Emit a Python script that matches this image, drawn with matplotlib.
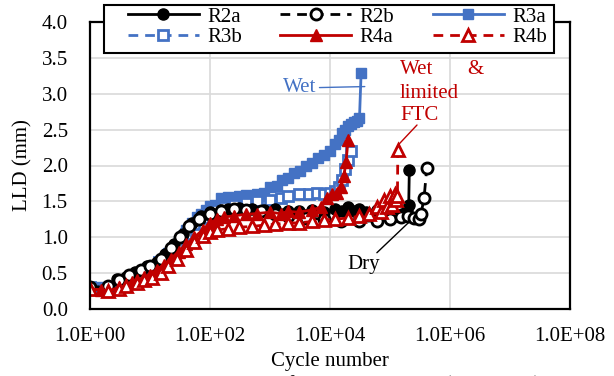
import matplotlib
matplotlib.use("Agg")
import matplotlib.pyplot as plt
from matplotlib.patches import Rectangle
from matplotlib.ticker import FixedLocator, FuncFormatter, NullLocator

plt.rcParams["font.family"] = ["Liberation Serif", "DejaVu Serif"]
plt.rcParams["font.size"] = 15

# ---- data (cycles, LLD in mm) ----
r2a_x = [1, 2, 2.8, 4, 5.6, 7, 9, 13, 18, 25, 35, 50, 70, 100, 150, 200, 300, 500, 800,
         1200, 2000, 3000, 5000, 8000, 12000, 16000, 20000, 25000, 30000, 40000, 60000,
         80000, 100000, 130000, 160000, 190000, 205000, 210000]
r2a_y = [0.30, 0.30, 0.42, 0.45, 0.51, 0.55, 0.60, 0.66, 0.76, 0.90, 1.05, 1.20, 1.30, 1.35,
         1.38, 1.40, 1.41, 1.40, 1.38, 1.40, 1.37, 1.36, 1.38, 1.35, 1.40, 1.36, 1.42, 1.37,
         1.40, 1.35, 1.38, 1.33, 1.32, 1.30, 1.32, 1.38, 1.45, 1.94]

r2b_x = [1, 2, 3, 4.5, 7, 10, 15, 22, 32, 45, 65, 100, 150, 250, 400, 700, 1200, 2000, 4000,
         8000, 15000, 30000, 60000, 100000, 150000, 200000, 250000, 300000, 330000, 370000,
         410000]
r2b_y = [0.30, 0.32, 0.40, 0.48, 0.55, 0.60, 0.70, 0.85, 1.00, 1.15, 1.25, 1.32, 1.36, 1.40,
         1.38, 1.36, 1.33, 1.30, 1.27, 1.25, 1.23, 1.22, 1.23, 1.25, 1.28, 1.30, 1.27, 1.25,
         1.33, 1.55, 1.97]

r3a_x = [1, 1.5, 2, 2.5, 3, 4, 5, 6, 8, 10, 12, 15, 20, 25, 30, 35, 40, 50, 60, 70, 85, 100,
         120, 150, 200, 300, 400, 600, 800, 1000, 1300, 1600, 2000, 2500, 3200, 4000, 5000,
         6300, 8000, 10000, 12000, 14000, 16000, 18000, 20000, 22000, 25000, 28000, 31000,
         33000]
r3a_y = [0.31, 0.30, 0.28, 0.30, 0.33, 0.40, 0.45, 0.50, 0.53, 0.57, 0.60, 0.68, 0.78, 0.85,
         0.95, 1.02, 1.10, 1.20, 1.28, 1.33, 1.38, 1.43, 1.45, 1.55, 1.56, 1.58, 1.59, 1.60,
         1.62, 1.70, 1.72, 1.80, 1.82, 1.90, 1.92, 2.00, 2.03, 2.10, 2.15, 2.20, 2.30, 2.35,
         2.45, 2.50, 2.55, 2.58, 2.60, 2.62, 2.66, 3.29]

r3b_x = [1, 2, 3, 4, 6, 8, 10, 14, 20, 28, 40, 55, 75, 100, 130, 170, 250, 400, 600, 1000,
         1500, 2000, 3000, 4500, 6000, 8000, 10000, 12000, 14000, 16000, 18000, 20000, 22000]
r3b_y = [0.30, 0.28, 0.30, 0.38, 0.48, 0.52, 0.56, 0.65, 0.75, 0.88, 1.05, 1.18, 1.27, 1.33,
         1.38, 1.42, 1.45, 1.48, 1.50, 1.52, 1.55, 1.58, 1.60, 1.60, 1.61, 1.60, 1.62, 1.64,
         1.70, 1.80, 1.95, 2.08, 2.20]

r4a_x = [1, 1.5, 2, 3, 4, 5, 6, 8, 10, 13, 17, 22, 30, 40, 55, 75, 100, 130, 170, 250, 400,
         600, 1000, 1500, 2000, 3000, 5000, 7000, 9000, 11000, 13000, 15000, 17000, 18500,
         20000]
r4a_y = [0.28, 0.27, 0.25, 0.30, 0.33, 0.38, 0.40, 0.44, 0.48, 0.55, 0.62, 0.70, 0.80, 0.90,
         1.00, 1.10, 1.20, 1.25, 1.28, 1.30, 1.32, 1.33, 1.35, 1.33, 1.36, 1.35, 1.38, 1.42,
         1.55, 1.60, 1.62, 1.70, 1.85, 2.05, 2.36]

r4b_x = [1, 2, 3, 4, 6, 8, 11, 15, 20, 28, 40, 55, 75, 100, 130, 200, 300, 500, 800, 1200,
         2000, 3000, 5000, 8000, 12000, 20000, 30000, 45000, 60000, 70000, 80000, 90000,
         100000, 110000, 120000, 128000, 133000, 135000]
r4b_y = [0.28, 0.25, 0.28, 0.32, 0.36, 0.40, 0.43, 0.50, 0.60, 0.70, 0.82, 0.93, 1.02, 1.07,
         1.10, 1.12, 1.14, 1.15, 1.17, 1.18, 1.20, 1.20, 1.22, 1.24, 1.25, 1.27, 1.29, 1.33,
         1.42, 1.35, 1.52, 1.42, 1.58, 1.45, 1.60, 1.52, 1.57, 2.22]

x_ticks = [1e0, 1e2, 1e4, 1e6, 1e8]
y_ticks = [0.0, 0.5, 1.0, 1.5, 2.0, 2.5, 3.0, 3.5, 4.0]

BLACK = "#000000"
BLUE = "#4472C4"
RED = "#C00000"
W, H = 614, 376


def fx(px):
    return px / W


def fy(py):
    return 1 - py / H


fig = plt.figure(figsize=(6.14, 3.76), dpi=100)
ax = fig.add_axes([fx(90), fy(309), 480 / W, 287 / H])

dash = (0, (3.5, 2.5))
h3a, = ax.plot(r3a_x, r3a_y, color=BLUE, lw=2, marker="s", ms=7.5, label="R3a")
h3b, = ax.plot(r3b_x, r3b_y, color=BLUE, lw=2, ls=dash, marker="s", ms=7.5,
               mfc="white", mec=BLUE, mew=2, label="R3b")
h2a, = ax.plot(r2a_x, r2a_y, color=BLACK, lw=2, marker="o", ms=8, label="R2a")
h2b, = ax.plot(r2b_x, r2b_y, color=BLACK, lw=2, ls=dash, marker="o", ms=8,
               mfc="white", mec=BLACK, mew=2, label="R2b")
h4a, = ax.plot(r4a_x, r4a_y, color=RED, lw=2, marker="^", ms=8.5, label="R4a")
h4b, = ax.plot(r4b_x, r4b_y, color=RED, lw=2, ls=dash, marker="^", ms=8.5,
               mfc="white", mec=RED, mew=2, label="R4b")

ax.set_xscale("log")
ax.set_xlim(1, 1e8)
ax.set_ylim(0, 4)
ax.xaxis.set_major_locator(FixedLocator(x_ticks))
ax.xaxis.set_minor_locator(NullLocator())
ax.xaxis.set_major_formatter(FuncFormatter(lambda v, p: f"{v:.1E}"))
ax.set_yticks(y_ticks)
ax.yaxis.set_major_formatter(FuncFormatter(lambda v, p: f"{v:.1f}"))
ax.tick_params(axis="both", length=0, labelsize=15)
ax.tick_params(axis="y", pad=16)
ax.tick_params(axis="x", pad=13)
ax.grid(True, color="#D9D9D9", lw=1.2)
ax.set_axisbelow(True)
for s in ax.spines.values():
    s.set_linewidth(1.6)
    s.set_color("black")

ax.set_xlabel("Cycle number", fontsize=15)
ax.xaxis.set_label_coords(0.5, -0.15)
ax.set_ylabel("LLD (mm)", fontsize=15)
ax.yaxis.set_label_coords(-0.12, 0.5)

# annotations
line_kw = dict(arrowstyle="-", lw=1, shrinkA=0, shrinkB=0)
ax.annotate("Wet", xy=(3.8e4, 3.1), xytext=(fx(300), fy(88)),
            textcoords="figure fraction", color=BLUE, fontsize=15,
            ha="center", va="center", arrowprops=dict(color=BLUE, **line_kw))
ax.annotate("Dry", xy=(2.07e5, 1.21), xytext=(fx(364), fy(265)),
            textcoords="figure fraction", color="black", fontsize=15,
            ha="center", va="center", arrowprops=dict(color="black", **line_kw))
ax.annotate("", xy=(1.42e5, 2.3), xytext=(fx(417), fy(125)),
            textcoords="figure fraction", arrowprops=dict(color=RED, **line_kw))
fig.text(fx(400), fy(70), "Wet", color=RED, fontsize=15, va="center")
fig.text(fx(467), fy(70), "&", color=RED, fontsize=15, va="center")
fig.text(fx(400), fy(93), "limited", color=RED, fontsize=15, va="center")
fig.text(fx(400), fy(116), "FTC", color=RED, fontsize=15, va="center")

# legend box (drawn separately so the padding matches)
fig.patches.append(Rectangle((fx(104), fy(53)), 450 / W, 48 / H, transform=fig.transFigure,
                             facecolor="white", edgecolor="black", lw=1.5, zorder=4))
handles = [h2a, h3b, h2b, h4a, h3a, h4b]
fig.legend(handles=handles, labels=[h.get_label() for h in handles], ncol=3,
           loc="upper left", bbox_to_anchor=(fx(128), fy(7)), frameon=False,
           borderpad=0, borderaxespad=0, handlelength=3.4, handletextpad=0.4,
           columnspacing=1.85, labelspacing=0.05, fontsize=15)

# caption of the source page, cut by the bottom edge as in the reference
fig.text(fx(80), fy(390), "Fig. 3.14 Permanent deformation curves (Repeated)",
         fontsize=16, va="baseline")

fig.savefig("out.png", dpi=100)
